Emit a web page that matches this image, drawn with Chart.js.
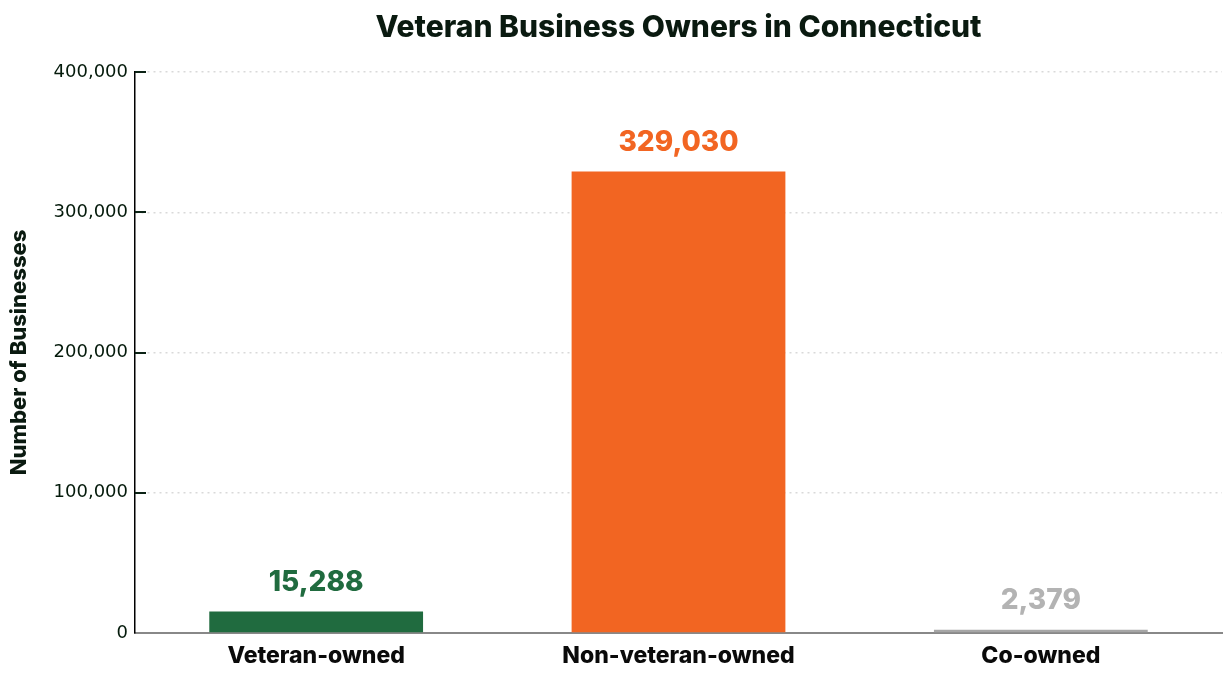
<!DOCTYPE html>
<html>
<head>
<meta charset="utf-8">
<script src="https://cdn.jsdelivr.net/npm/chart.js@4"></script>
<style>
  html, body { margin: 0; padding: 0; background: #fff; }
  #wrap { width: 1230px; height: 680px; }
</style>
</head>
<body>
<div id="wrap"><canvas id="myChart" width="1230" height="680"></canvas></div>
<script>
const categories = ['Veteran-owned', 'Non-veteran-owned', 'Co-owned'];
const businessCounts = [15288, 329030, 2379];
const barColors = ['#206b3f', '#f26522', '#a6a6a6'];
const labelColors = ['#206b3f', '#f26522', '#b3b3b3'];
const yTicks = [0, 100000, 200000, 300000, 400000];

const boldFont = 'Inter, "Noto Sans", sans-serif';

// value labels above each bar
const valueLabels = {
    id: 'valueLabels',
    afterDatasetsDraw(chart) {
        const ctx = chart.ctx;
        const meta = chart.getDatasetMeta(0);
        ctx.save();
        ctx.font = '800 28px ' + boldFont;
        ctx.textAlign = 'center';
        ctx.textBaseline = 'alphabetic';
        meta.data.forEach((bar, i) => {
            ctx.fillStyle = labelColors[i];
            ctx.fillText(businessCounts[i].toLocaleString('en-US'), bar.x, bar.y - 21);
        });
        ctx.restore();
    }
};

// small tick marks drawn inside the plot, right of the y axis
const innerTicks = {
    id: 'innerTicks',
    afterDraw(chart) {
        const ctx = chart.ctx;
        const y = chart.scales.y;
        const left = chart.chartArea.left;
        ctx.save();
        ctx.strokeStyle = '#0a2214';
        ctx.lineWidth = 2;
        yTicks.slice(1).forEach(v => {
            const py = Math.round(y.getPixelForValue(v));
            ctx.beginPath();
            ctx.moveTo(left, py);
            ctx.lineTo(left + 11, py);
            ctx.stroke();
        });
        ctx.restore();
    }
};

const ctx = document.getElementById('myChart').getContext('2d');
const myChart = new Chart(ctx, {
    type: 'bar',
    data: {
        labels: categories,
        datasets: [{
            data: businessCounts,
            backgroundColor: barColors,
            borderWidth: 0,
            barPercentage: 0.59,
            categoryPercentage: 1,
        }],
    },
    plugins: [valueLabels, innerTicks],
    options: {
        responsive: false,
        animation: false,
        layout: {
            padding: { left: 0, right: 8, top: 0, bottom: 0 }
        },
        plugins: {
            legend: { display: false },
            tooltip: { enabled: false },
            title: {
                display: true,
                fullSize: false,
                text: 'Veteran Business Owners in Connecticut',
                color: '#0a1a10',
                font: { family: boldFont, size: 30, weight: '800' },
                padding: { top: 10, bottom: 26 },
            },
        },
        scales: {
            x: {
                grid: { display: false, drawTicks: false },
                border: { display: true, color: '#888888', width: 2 },
                ticks: {
                    color: '#0a0a0a',
                    padding: 9,
                    font: { family: boldFont, size: 23, weight: '800' },
                },
                afterFit(scale) { scale.height = 47; },
            },
            y: {
                min: 0,
                max: 400000,
                afterBuildTicks(scale) {
                    scale.ticks = yTicks.map(v => ({ value: v }));
                },
                grid: {
                    color: '#d9d9d9',
                    lineWidth: 1.5,
                    drawTicks: false,
                },
                border: { display: true, color: '#000000', width: 1.5, dash: [2, 4] },
                ticks: {
                    color: '#041a0b',
                    padding: 7,
                    font: { family: '"DejaVu Sans", sans-serif', size: 18 },
                    callback: v => v.toLocaleString('en-US'),
                },
                title: {
                    display: true,
                    text: 'Number of Businesses',
                    color: '#0a1a10',
                    font: { family: boldFont, size: 22, weight: '800' },
                    padding: { top: 6, bottom: 0 },
                },
                afterFit(scale) { scale.width = 135; },
            },
        },
    },
});
</script>
</body>
</html>
